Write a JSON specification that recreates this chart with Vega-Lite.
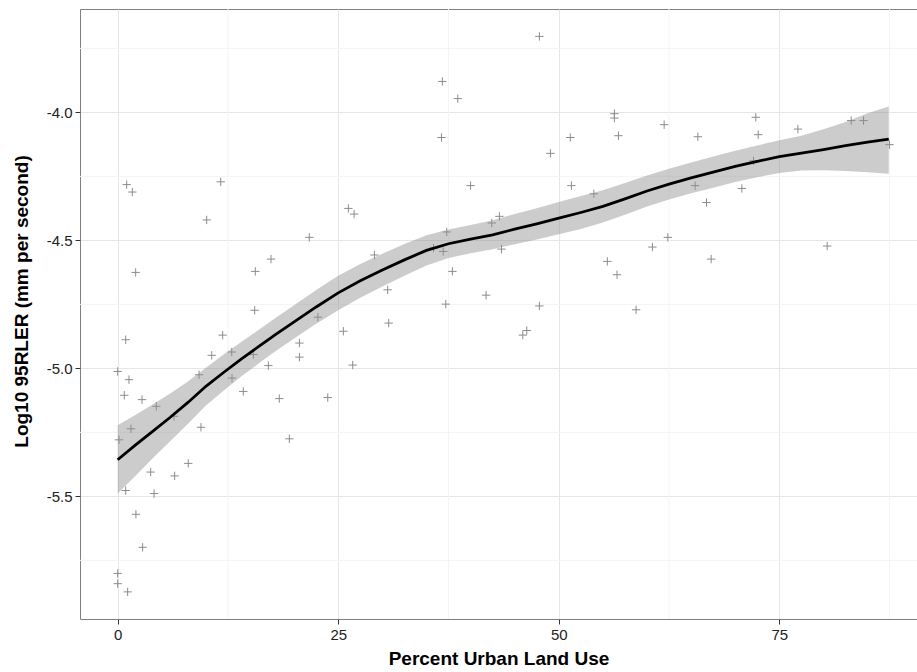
{
  "$schema": "https://vega.github.io/schema/vega-lite/v6.json",
  "width": 837,
  "height": 610,
  "autosize": {"type": "none"},
  "padding": {"left": 80, "top": 9, "right": 0, "bottom": 53},
  "background": "white",
  "config": {
    "view": {"stroke": "#7f7f7f", "strokeWidth": 1},
    "font": "Liberation Sans"
  },
  "datasets": {
    "pts": [
      {"x": 1.02, "y": -4.282}, {"x": 1.66, "y": -4.311}, {"x": 11.68, "y": -4.271}, {"x": 10.09, "y": -4.42},
      {"x": 21.72, "y": -4.488}, {"x": 2.04, "y": -4.625}, {"x": 15.6, "y": -4.621}, {"x": 17.38, "y": -4.573},
      {"x": 15.53, "y": -4.773}, {"x": 0.91, "y": -4.888}, {"x": 11.9, "y": -4.87}, {"x": 0, "y": -5.012},
      {"x": 1.28, "y": -5.044}, {"x": 10.66, "y": -4.949}, {"x": 12.93, "y": -4.936}, {"x": 15.38, "y": -4.946},
      {"x": 20.6, "y": -4.901}, {"x": 20.6, "y": -4.956}, {"x": 17.08, "y": -4.989}, {"x": 12.96, "y": -5.038},
      {"x": 9.22, "y": -5.025}, {"x": 0.75, "y": -5.105}, {"x": 2.76, "y": -5.122}, {"x": 4.38, "y": -5.148},
      {"x": 14.24, "y": -5.09}, {"x": 18.32, "y": -5.118}, {"x": 6.38, "y": -5.187}, {"x": 1.51, "y": -5.236},
      {"x": 9.44, "y": -5.23}, {"x": 0.15, "y": -5.279}, {"x": 19.46, "y": -5.275}, {"x": 3.74, "y": -5.405},
      {"x": 6.46, "y": -5.42}, {"x": 8.0, "y": -5.371}, {"x": 0.91, "y": -5.477}, {"x": 4.12, "y": -5.489},
      {"x": 2.07, "y": -5.57}, {"x": 2.83, "y": -5.699}, {"x": 0, "y": -5.801}, {"x": 0, "y": -5.841},
      {"x": 1.13, "y": -5.873}, {"x": 25.58, "y": -4.855}, {"x": 30.72, "y": -4.823}, {"x": 26.64, "y": -4.987},
      {"x": 23.81, "y": -5.114}, {"x": 45.92, "y": -4.87}, {"x": 46.37, "y": -4.852}, {"x": 47.8, "y": -3.703},
      {"x": 36.8, "y": -3.879}, {"x": 38.55, "y": -3.946}, {"x": 36.7, "y": -4.098}, {"x": 56.3, "y": -4.005},
      {"x": 56.3, "y": -4.022}, {"x": 56.76, "y": -4.091}, {"x": 51.3, "y": -4.098}, {"x": 49.05, "y": -4.16},
      {"x": 40.0, "y": -4.286}, {"x": 51.43, "y": -4.286}, {"x": 53.97, "y": -4.318}, {"x": 26.15, "y": -4.375},
      {"x": 26.8, "y": -4.397}, {"x": 43.27, "y": -4.406}, {"x": 42.4, "y": -4.432}, {"x": 37.3, "y": -4.467},
      {"x": 36.9, "y": -4.543}, {"x": 35.8, "y": -4.53}, {"x": 43.5, "y": -4.534}, {"x": 29.1, "y": -4.557},
      {"x": 37.94, "y": -4.621}, {"x": 30.6, "y": -4.693}, {"x": 41.76, "y": -4.714}, {"x": 37.19, "y": -4.749},
      {"x": 47.8, "y": -4.756}, {"x": 55.5, "y": -4.582}, {"x": 56.6, "y": -4.634}, {"x": 22.7, "y": -4.8},
      {"x": 61.94, "y": -4.048}, {"x": 65.76, "y": -4.095}, {"x": 72.33, "y": -4.019}, {"x": 72.6, "y": -4.087},
      {"x": 77.1, "y": -4.065}, {"x": 83.14, "y": -4.032}, {"x": 84.54, "y": -4.032}, {"x": 87.48, "y": -4.126},
      {"x": 72.07, "y": -4.189}, {"x": 65.45, "y": -4.286}, {"x": 70.75, "y": -4.297}, {"x": 66.74, "y": -4.352},
      {"x": 62.36, "y": -4.488}, {"x": 60.61, "y": -4.526}, {"x": 67.27, "y": -4.573}, {"x": 80.42, "y": -4.522},
      {"x": 58.76, "y": -4.771}
    ],
    "fit": [
      {"x": 0, "y": -5.357, "lo": -5.489, "hi": -5.222},
      {"x": 2, "y": -5.3, "lo": -5.42, "hi": -5.182},
      {"x": 4, "y": -5.245, "lo": -5.35, "hi": -5.14},
      {"x": 6, "y": -5.19, "lo": -5.283, "hi": -5.097},
      {"x": 8, "y": -5.132, "lo": -5.215, "hi": -5.05},
      {"x": 10, "y": -5.07, "lo": -5.145, "hi": -4.997},
      {"x": 12, "y": -5.016, "lo": -5.087, "hi": -4.946},
      {"x": 14, "y": -4.964, "lo": -5.032, "hi": -4.897},
      {"x": 16, "y": -4.914, "lo": -4.98, "hi": -4.849},
      {"x": 18, "y": -4.865, "lo": -4.93, "hi": -4.8},
      {"x": 20, "y": -4.818, "lo": -4.883, "hi": -4.753},
      {"x": 22.5, "y": -4.76, "lo": -4.826, "hi": -4.694},
      {"x": 25, "y": -4.705, "lo": -4.773, "hi": -4.638},
      {"x": 27.5, "y": -4.658, "lo": -4.724, "hi": -4.592},
      {"x": 30, "y": -4.616, "lo": -4.68, "hi": -4.552},
      {"x": 32.5, "y": -4.576, "lo": -4.638, "hi": -4.514},
      {"x": 35, "y": -4.539, "lo": -4.598, "hi": -4.48},
      {"x": 37.5, "y": -4.513, "lo": -4.569, "hi": -4.457},
      {"x": 40, "y": -4.495, "lo": -4.55, "hi": -4.44},
      {"x": 42.5, "y": -4.478, "lo": -4.535, "hi": -4.421},
      {"x": 45, "y": -4.456, "lo": -4.515, "hi": -4.397},
      {"x": 47.5, "y": -4.435, "lo": -4.496, "hi": -4.374},
      {"x": 50, "y": -4.413, "lo": -4.476, "hi": -4.35},
      {"x": 52.5, "y": -4.391, "lo": -4.455, "hi": -4.327},
      {"x": 55, "y": -4.367, "lo": -4.43, "hi": -4.304},
      {"x": 57.5, "y": -4.338, "lo": -4.4, "hi": -4.276},
      {"x": 60, "y": -4.307, "lo": -4.368, "hi": -4.246},
      {"x": 62.5, "y": -4.28, "lo": -4.34, "hi": -4.22},
      {"x": 65, "y": -4.256, "lo": -4.316, "hi": -4.196},
      {"x": 67.5, "y": -4.233, "lo": -4.294, "hi": -4.172},
      {"x": 70, "y": -4.211, "lo": -4.272, "hi": -4.15},
      {"x": 72.5, "y": -4.191, "lo": -4.253, "hi": -4.129},
      {"x": 75, "y": -4.173, "lo": -4.237, "hi": -4.109},
      {"x": 77.5, "y": -4.159, "lo": -4.227, "hi": -4.091},
      {"x": 80, "y": -4.145, "lo": -4.226, "hi": -4.066},
      {"x": 82.5, "y": -4.13, "lo": -4.229, "hi": -4.037},
      {"x": 85, "y": -4.116, "lo": -4.234, "hi": -4.003},
      {"x": 87.4, "y": -4.104, "lo": -4.24, "hi": -3.977}
    ],
    "minorx": [{"x": 12.5}, {"x": 37.5}, {"x": 62.5}, {"x": 87.5}],
    "minory": [{"y": -3.75}, {"y": -4.25}, {"y": -4.75}, {"y": -5.25}, {"y": -5.75}]
  },
  "layer": [
    {
      "data": {"name": "minorx"},
      "mark": {"type": "rule", "color": "#f4f4f4", "strokeWidth": 1},
      "encoding": {
        "x": {"field": "x", "type": "quantitative", "scale": {"domain": [-4.27, 90.6], "nice": false, "zero": false}}
      }
    },
    {
      "data": {"name": "minory"},
      "mark": {"type": "rule", "color": "#f4f4f4", "strokeWidth": 1},
      "encoding": {
        "y": {"field": "y", "type": "quantitative", "scale": {"domain": [-5.979, -3.596], "nice": false, "zero": false}}
      }
    },
    {
      "data": {"name": "pts"},
      "mark": {"type": "point", "shape": "M-1,0H1M0,-1V1", "size": 70, "filled": false, "stroke": "#8c8c8c", "strokeWidth": 1, "opacity": 1},
      "encoding": {
        "x": {
          "field": "x", "type": "quantitative",
          "scale": {"domain": [-4.27, 90.6], "nice": false, "zero": false},
          "axis": {
            "values": [0, 25, 50, 75],
            "title": "Percent Urban Land Use",
            "titleFont": "Liberation Sans", "titleFontSize": 19, "titleFontWeight": "bold", "titleColor": "#000000",
            "titlePadding": 7,
            "labelFont": "Liberation Sans", "labelFontSize": 15, "labelColor": "#222222", "labelPadding": 3,
            "tickColor": "#333333", "tickSize": 5, "tickWidth": 1,
            "grid": true, "gridColor": "#e6e6e6", "gridWidth": 1,
            "domain": false
          }
        },
        "y": {
          "field": "y", "type": "quantitative",
          "scale": {"domain": [-5.979, -3.596], "nice": false, "zero": false},
          "axis": {
            "values": [-5.5, -5.0, -4.5, -4.0],
            "labelExpr": "replace(format(datum.value, '.1f'), '\u2212', '-')",
            "title": "Log10 95RLER (mm per second)",
            "titleFont": "Liberation Sans", "titleFontSize": 19, "titleFontWeight": "bold", "titleColor": "#000000",
            "titlePadding": 15,
            "titleY": 292,
            "labelFont": "Liberation Sans", "labelFontSize": 15, "labelColor": "#222222", "labelPadding": 3,
            "tickColor": "#333333", "tickSize": 5, "tickWidth": 1,
            "grid": true, "gridColor": "#e6e6e6", "gridWidth": 1,
            "domain": false
          }
        }
      }
    },
    {
      "data": {"name": "fit"},
      "mark": {"type": "area", "color": "#8f8f8f", "opacity": 0.45},
      "encoding": {
        "x": {"field": "x", "type": "quantitative"},
        "y": {"field": "lo", "type": "quantitative"},
        "y2": {"field": "hi"}
      }
    },
    {
      "data": {"name": "fit"},
      "mark": {"type": "line", "color": "#000000", "strokeWidth": 2.8},
      "encoding": {
        "x": {"field": "x", "type": "quantitative"},
        "y": {"field": "y", "type": "quantitative"}
      }
    }
  ]
}
